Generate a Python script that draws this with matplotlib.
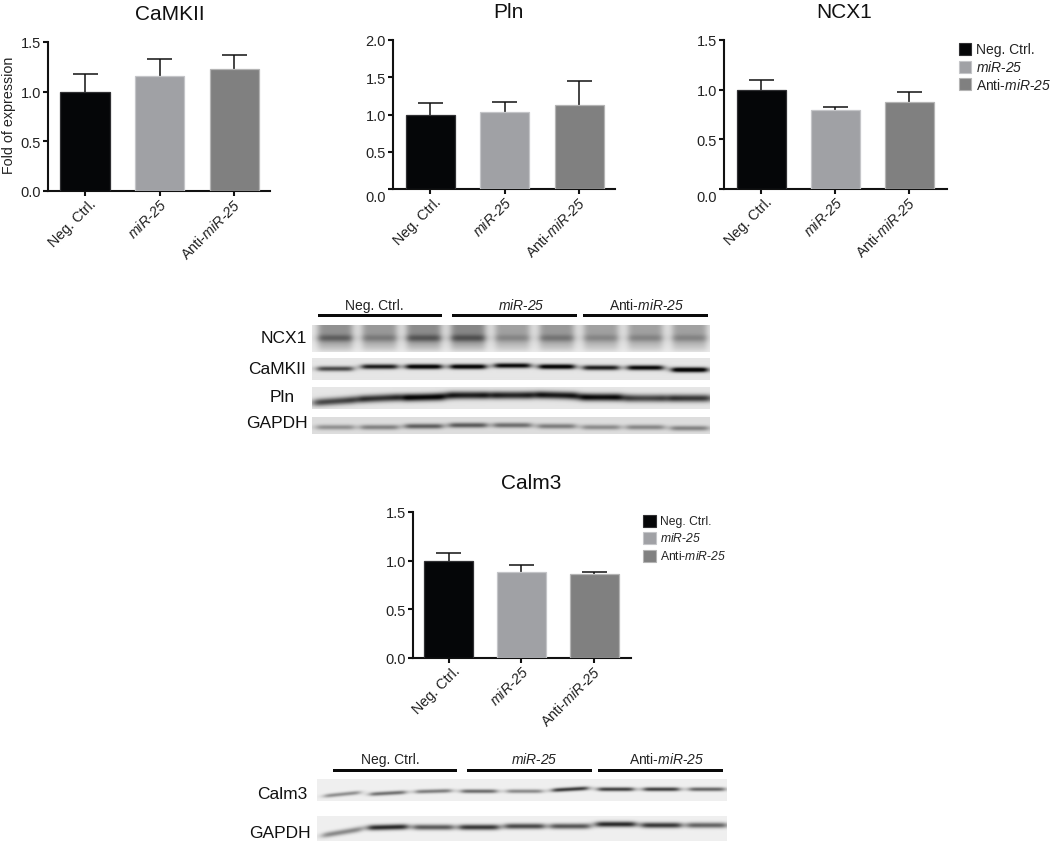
import matplotlib
matplotlib.use('Agg')
import matplotlib.pyplot as plt
import numpy as np
from matplotlib.patches import Rectangle
from matplotlib.transforms import ScaledTranslation

plt.rcParams['font.family'] = ['Liberation Sans', 'DejaVu Sans']
plt.rcParams['mathtext.fontset'] = 'custom'
plt.rcParams['mathtext.rm'] = 'Liberation Sans'
plt.rcParams['mathtext.it'] = 'Liberation Sans:italic'
plt.rcParams['mathtext.cal'] = 'Liberation Sans:italic'

W, H = 1050, 845

groups = ['Neg. Ctrl.', r'$\mathcal{miR}$-$\mathcal{25}$', r'Anti-$\mathcal{miR}$-$\mathcal{25}$']
bar_colors = ['#050608', '#a0a1a5', '#808080']
edge_colors = ['#303033', '#c4c5c8', '#b4b4b4']

camkii_vals = [1.0, 1.16, 1.23]
camkii_tops = [1.18, 1.33, 1.37]
pln_vals = [0.99, 1.03, 1.13]
pln_tops = [1.15, 1.17, 1.45]
ncx1_vals = [1.0, 0.80, 0.88]
ncx1_tops = [1.10, 0.83, 0.98]
calm3_vals = [1.0, 0.885, 0.865]
calm3_tops = [1.075, 0.955, 0.885]

ticks_15 = [0.0, 0.5, 1.0, 1.5]
ticks_20 = [0.0, 0.5, 1.0, 1.5, 2.0]

# band darkness per lane
ncx1_bands = [0.22, 0.14, 0.24, 0.24, 0.12, 0.16, 0.12, 0.13, 0.13]
ncx1_smear = [0.36, 0.33, 0.38, 0.40, 0.30, 0.33, 0.30, 0.30, 0.30]
camkii_bands = [0.62, 0.80, 0.95, 0.95, 0.88, 0.95, 0.80, 0.90, 1.0]
pln_bands = [0.62, 0.70, 0.88, 0.78, 0.75, 0.80, 0.85, 0.62, 0.68]
gapdh1_bands = [0.30, 0.36, 0.50, 0.52, 0.44, 0.38, 0.32, 0.34, 0.36]
calm3_bands = [0.38, 0.50, 0.45, 0.52, 0.40, 0.72, 0.70, 0.70, 0.55]
gapdh2_bands = [0.40, 0.78, 0.58, 0.72, 0.65, 0.60, 0.78, 0.72, 0.55]

fig = plt.figure(figsize=(W / 100, H / 100), dpi=100, facecolor='white')


def px_axes(x0, x1, y_top, y_bottom):
    return fig.add_axes([x0 / W, 1 - y_bottom / H, (x1 - x0) / W, (y_bottom - y_top) / H])


def px_shift(label, dx, dy):
    label.set_transform(label.get_transform() + ScaledTranslation(dx / 100, -dy / 100, fig.dpi_scale_trans))


def bar_panel(title, vals, tops, yticks, box, centers, title_x, title_y, zero_drop=0):
    x0, x1, y_top, y_bottom = box
    ax = px_axes(x0, x1, y_top, y_bottom)
    pitch = (centers[2] - centers[0]) / 2
    ax.set_xlim((x0 - centers[0]) / pitch, (x1 - centers[0]) / pitch)
    ax.set_ylim(0, yticks[-1])
    xs = np.arange(3)
    # upper error bars only, the bar hides the stem below its top
    cap = 12.5 / pitch
    ax.vlines(xs, vals, tops, color='#111111', linewidth=1.1, zorder=2)
    ax.hlines(tops, xs - cap, xs + cap, color='#111111', linewidth=1.1, zorder=2)
    ax.bar(xs, vals, width=49 / pitch, color=bar_colors, edgecolor=edge_colors, linewidth=0.9, zorder=3)
    for side in ['top', 'right']:
        ax.spines[side].set_visible(False)
    for side in ['left', 'bottom']:
        ax.spines[side].set_linewidth(1.5)
        ax.spines[side].set_color('#111111')
    ax.set_yticks(yticks)
    ax.set_yticklabels([f'{t:.1f}' for t in yticks], fontsize=10.5, color='#222222')
    ax.set_xticks(xs)
    ax.set_xticklabels(groups, fontsize=10.4, color='#222222', rotation=45, ha='right', rotation_mode='anchor')
    ax.tick_params(axis='both', length=3.5, width=1.5, color='#111111')
    ax.tick_params(axis='y', pad=1.5)
    ax.tick_params(axis='x', pad=3)
    for lab, dx in zip(ax.get_xticklabels(), (4, 0, -1)):
        px_shift(lab, dx, -4)
    if zero_drop:
        px_shift(ax.get_yticklabels()[0], 0, zero_drop)
    fig.text(title_x / W, 1 - title_y / H, title, fontsize=15, ha='center', va='center', color='#111111')
    return ax


def legend_block(x_box, y_centers, size, fontsize):
    for y, col, edge, name in zip(y_centers, bar_colors, edge_colors, groups):
        fig.add_artist(Rectangle((x_box / W, 1 - (y + size / 2) / H), size / W, size / H,
                                 transform=fig.transFigure, facecolor=col, edgecolor=edge, linewidth=0.8))
        fig.text((x_box + size + 5) / W, 1 - y / H, name, fontsize=fontsize, va='center', ha='left', color='#222222')


def blot_strip(box, bands, first_lane, pitch, lane_w, band_y, thick, bg=0.90, smear=None, slant=None):
    x0, x1, y0, y1 = box
    ys, xs = np.mgrid[y0:y1:0.5, x0:x1:0.5]
    img = np.full(xs.shape, bg)
    for i, strength in enumerate(bands):
        xc = first_lane + i * pitch
        tilt = 0 if slant is None else slant[i]
        mask = 1 / (1 + ((xs - xc) / (lane_w / 2)) ** 8)
        yc = band_y[i] - tilt * (xs - xc) / (lane_w / 2)
        band = strength * np.exp(-((ys - yc) / thick) ** 2)
        if smear is not None:
            # the NCX1 lanes are a wide smear that fades towards the bottom
            band = band + smear[i] * np.clip(1.1 - ((ys - y0) / (y1 - y0)) ** 2.5, 0, 1)
        img -= mask * band
    ax = px_axes(x0, x1, y0, y1)
    ax.imshow(np.clip(img, 0.03, 1), cmap='gray', vmin=0, vmax=1, aspect='auto', interpolation='bilinear',
              extent=[x0, x1, y1, y0])
    ax.axis('off')


def group_bars(spans, y_bar, y_text, text_x):
    for (a, b), tx, name in zip(spans, text_x, groups):
        fig.add_artist(Rectangle((a / W, 1 - (y_bar + 1.5) / H), (b - a) / W, 3 / H,
                                 transform=fig.transFigure, facecolor='#0a0a0a', edgecolor='none'))
        fig.text(tx / W, 1 - y_text / H, name, fontsize=10, ha='center', va='center', color='#222222')


def blot_label(name, x, y):
    fig.text(x / W, 1 - y / H, name, fontsize=12.5, ha='right', va='center', color='#111111')


bar_panel('CaMKII', camkii_vals, camkii_tops, ticks_15, (48, 270, 43, 192), (85, 160, 234), 170, 14)
fig.text(9 / W, 1 - 115 / H, 'Fold of expression', fontsize=10.3, rotation=90, ha='center', va='center', color='#222222')
bar_panel('Pln', pln_vals, pln_tops, ticks_20, (393, 615, 41, 190), (430, 504, 579), 508, 12, zero_drop=7)
bar_panel('NCX1', ncx1_vals, ncx1_tops, ticks_15, (724, 947, 41, 190), (761, 835, 909), 844, 12, zero_drop=7)
bar_panel('Calm3', calm3_vals, calm3_tops, ticks_15, (413, 631, 513, 659), (448.5, 522, 594), 531, 484)

legend_block(959, (50, 68, 85), 12, 10)
legend_block(643, (522, 539, 557), 12.5, 8.7)

# upper blot
group_bars([(318, 442), (452, 577), (583, 708)], 316, 306, (374, 521, 647))
blot_strip((312, 710, 326, 353), ncx1_bands, 335, 44.3, 35, [339] * 9, 3.5, bg=0.93, smear=ncx1_smear)
blot_strip((312, 710, 359, 381), camkii_bands, 335, 44.3, 36,
           [370, 368, 368, 368, 367, 368, 369, 369, 371], 2.4)
blot_strip((312, 710, 388, 410), pln_bands, 335, 44.3, 44,
           [402, 399, 398, 396, 396, 396, 398, 399, 399], 3.8, slant=[1.5, 1, 0.5, 0, 0, -0.5, 0, 0, 0])
blot_strip((312, 710, 418, 435), gapdh1_bands, 335, 44.3, 38, [428, 428, 427, 426, 426, 427, 428, 428, 429], 2.6, bg=0.87)
blot_label('NCX1', 307, 339)
blot_label('CaMKII', 306, 369)
blot_label('Pln', 295, 398)
blot_label('GAPDH', 308, 424)

# lower blot
group_bars([(333, 457), (467, 592), (598, 723)], 771, 760, (390, 534, 667))
blot_strip((317, 727, 780, 802), calm3_bands, 342, 45.6, 36,
           [795, 794, 792, 792, 792, 790, 790, 790, 790], 2.0, bg=0.94, slant=[1.8, 1, 0.5, 0, 0, 1, 0, 0, 0])
blot_strip((317, 727, 817, 842), gapdh2_bands, 342, 45.6, 40,
           [833, 828, 828, 828, 827, 827, 825, 826, 826], 2.8, bg=0.94, slant=[3.3, 0.5, 0, 0, 0, 0, 0, 0, 0])
blot_label('Calm3', 307, 795)
blot_label('GAPDH', 311, 834)

fig.savefig('out.png', dpi=100, facecolor='white')
